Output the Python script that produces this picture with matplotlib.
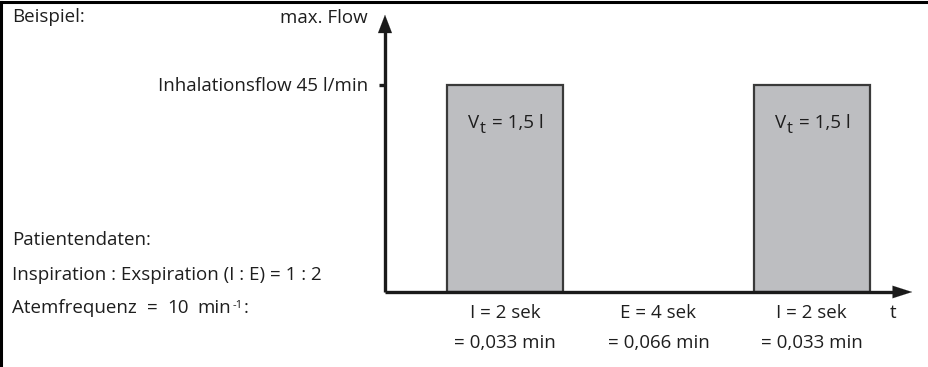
import matplotlib
matplotlib.use("Agg")
import matplotlib.pyplot as plt
from matplotlib.patches import Rectangle
import matplotlib.transforms as mtransforms

# ---- data ----
bar_starts = [1.07, 6.36]          # phase start (schematic time units)
bar_widths = [2.0, 2.0]            # inspiration duration (sek)
flow_value = 45                    # l/min
bar_label_parts = ["V", "t", "= 1,5 l"]
phase_labels_top = ["I = 2 sek", "E = 4 sek", "I = 2 sek"]
phase_labels_bot = ["= 0,033 min", "= 0,066 min", "= 0,033 min"]
flow_tick_label = "Inhalationsflow 45 l/min"
y_axis_label = "max. Flow"
x_axis_label = "t"
title_text = "Beispiel:"
left_texts = ["Patientendaten:", "Inspiration : Exspiration (I : E) = 1 : 2"]
freq_parts = ["Atemfrequenz = 10 min", "-1", ":"]

FONT = "Open Sans"
plt.rcParams['font.family'] = [FONT, 'DejaVu Sans']
FS = 13.5
TXT = "#1e1e1e"

W, H = 929, 367
fig = plt.figure(figsize=(W / 100, H / 100), dpi=100)
renderer = fig.canvas.get_renderer()
ident = mtransforms.IdentityTransform()

def fx(px):
    return px / W

def fy(py):
    return 1 - py / H

def rich(x, ytop_baseline, parts, ha='left'):
    """parts: list of (text, size, dy_px_up, gap_px_before); x in pixels, baseline y from top."""
    arts = []
    for s, size, dy, gap in parts:
        t = fig.text(0, 0, s, fontsize=size, color=TXT, ha='left', va='baseline', transform=ident)
        w = t.get_window_extent(renderer).width
        arts.append((t, w, dy, gap))
    total = sum(w + g for _, w, _, g in arts)
    cur = x - total / 2 if ha == 'center' else x
    yb = H - ytop_baseline
    for t, w, dy, gap in arts:
        cur += gap
        t.set_position((cur, yb + dy))
        cur += w

ax_left, ax_right, ax_top, ax_bottom = 385, 915, 12, 292
ax = fig.add_axes([fx(ax_left), fy(ax_bottom), fx(ax_right - ax_left), (ax_bottom - ax_top) / H])
xmax = 9.14
ymax = flow_value * (ax_bottom - ax_top) / (ax_bottom - 85)
ax.set_xlim(0, xmax)
ax.set_ylim(0, ymax)
ax.axis('off')

# bars
for s, w in zip(bar_starts, bar_widths):
    ax.add_patch(Rectangle((s, 0), w, flow_value, facecolor="#bdbec1",
                           edgecolor="#3a3a3a", linewidth=1.6, zorder=2))

# axes with arrows
axc = "#1a1a1a"
ax.plot([0, xmax * 0.975], [0, 0], color=axc, lw=2.4, solid_capstyle='butt', zorder=3, clip_on=False)
ax.plot([0, 0], [0, ymax * 0.95], color=axc, lw=2.4, solid_capstyle='butt', zorder=3, clip_on=False)
ax.annotate("", xy=(xmax, 0), xytext=(xmax * 0.96, 0),
            arrowprops=dict(arrowstyle="-|>,head_length=1.4,head_width=0.45", color=axc, lw=0.1),
            annotation_clip=False)
ax.annotate("", xy=(0, ymax), xytext=(0, ymax * 0.93),
            arrowprops=dict(arrowstyle="-|>,head_length=1.3,head_width=0.5", color=axc, lw=0.1),
            annotation_clip=False)
# tick
ax.plot([-0.1, 0], [flow_value, flow_value], color=axc, lw=2.4, solid_capstyle='butt', clip_on=False)

# bar labels (V with subscript t)
fig.canvas.draw()
for s, w in zip(bar_starts, bar_widths):
    cx = ax.transData.transform((s + w / 2, 0))[0]
    rich(cx + 1, 128, [(bar_label_parts[0], FS, 0, 0),
                       (bar_label_parts[1], FS * 0.9, -5, 0.5),
                       (bar_label_parts[2], FS, 0, 6)], ha='center')

# phase labels below
centers = [bar_starts[0] + bar_widths[0] / 2,
           (bar_starts[0] + bar_widths[0] + bar_starts[1]) / 2,
           bar_starts[1] + bar_widths[1] / 2]
trans = mtransforms.blended_transform_factory(ax.transData, fig.transFigure)
for c, t1, t2 in zip(centers, phase_labels_top, phase_labels_bot):
    ax.text(c, fy(313), t1, ha='center', va='center', fontsize=FS, color=TXT, transform=trans)
    ax.text(c, fy(343), t2, ha='center', va='center', fontsize=FS, color=TXT, transform=trans)
fig.text(fx(893), fy(313), x_axis_label, ha='center', va='center', fontsize=FS, color=TXT)

# left texts
fig.text(fx(12), fy(17), title_text, ha='left', va='center', fontsize=FS, color=TXT)
fig.text(fx(368), fy(18), y_axis_label, ha='right', va='center', fontsize=FS, color=TXT)
fig.text(fx(368), fy(86), flow_tick_label, ha='right', va='center', fontsize=FS, color=TXT)
for yy, t in zip([240, 275], left_texts):
    fig.text(fx(12), fy(yy), t, ha='left', va='center', fontsize=FS, color=TXT)
words = freq_parts[0].split(" ")
freq_rich = [(wd, FS, 0, 0 if i == 0 else 10) for i, wd in enumerate(words)]
freq_rich[-1] = (words[-1], FS, 0, 8)
freq_rich += [(freq_parts[1], FS * 0.6, 5.5, 1.5), (freq_parts[2], FS, 0, 1)]
rich(12, 313, freq_rich)

# frame lines (top and left)
fig.add_artist(plt.Line2D([fx(1.5), 1], [fy(1.5), fy(1.5)], color="black", lw=2.2, transform=fig.transFigure))
fig.add_artist(plt.Line2D([fx(1.5), fx(1.5)], [fy(1.5), fy(365)], color="black", lw=2.2, transform=fig.transFigure))

fig.savefig("out.png", dpi=100)
